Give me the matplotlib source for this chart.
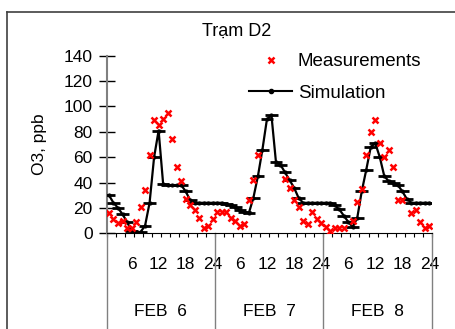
import numpy as np
import matplotlib.pyplot as plt
from matplotlib.lines import Line2D

plt.rcParams['font.family'] = ['Liberation Sans', 'DejaVu Sans']

# hourly values, one list per day (FEB 6, 7, 8)
days = ["FEB  6", "FEB  7", "FEB  8"]
hour_labels = [6, 12, 18, 24]

meas_d1 = [16, 11, 8, 10, 4, 4, 9, 21, 34, 62, 89, 85, 90, 95, 74, 52, 41, 27, 22, 18, 12, 4, 6, 11]
meas_d2 = [17, 17, 17, 12, 10, 6, 7, 26, 42, 62, np.nan, np.nan, np.nan, np.nan, np.nan,
           43, 36, 26, 21, 10, 7, 17, 11, 8]
meas_d3 = [5, 2, 4, 4, 4, np.nan, 10, 25, 35, 62, 80, 89, 71, 60, 66, 52, 26, 26, np.nan,
           16, 18, 9, 4, 6]

sim_d1 = [30, 24, 20, 15, 9, 2, 1, 1, 6, 24, 60, 81, 39, 38, 38, 38, 38, 33, 26, 24, 24, 24, 24, 24]
sim_d2 = [24, 24, 23, 22, 21, 18, 17, 16, 28, 45, 66, 90, 93, 56, 54, 48, 42, 36, 28, 24, 24, 24, 24, 24]
sim_d3 = [24, 24, 22, 19, 14, 9, 5, 12, 33, 50, 68, 71, 60, 45, 41, 40, 38, 33, 27, 24, 24, 24, 24, 24]

measurements = np.array(meas_d1 + meas_d2 + meas_d3, dtype=float)
simulation = np.array(sim_d1 + sim_d2 + sim_d3, dtype=float)
x = np.arange(72) + 0.5

fig = plt.figure(figsize=(4.56, 3.29), dpi=100)
ax = fig.add_axes([0.234, 0.291, 0.7127, 0.5397])

# simulation: line with small dots and horizontal bars
ax.errorbar(x, simulation, xerr=1.4, color='black', lw=1.6, elinewidth=2.0,
            capsize=0, marker='o', ms=2, zorder=3)
ax.plot(x, measurements, linestyle='none', marker='x', color='red', ms=4, mew=1.8, zorder=4)

ax.set_xlim(0, 72)
ax.set_ylim(0, 140)
ax.set_yticks(np.arange(0, 141, 20))
ax.tick_params(axis='y', direction='inout', length=12, width=1, labelsize=12.5, pad=4)

ax.set_xticks([d * 24 + h - 0.5 for d in range(3) for h in hour_labels])
ax.set_xticklabels([str(h) for d in range(3) for h in hour_labels])
ax.set_xticks(np.arange(0, 73, 2), minor=True)
ax.tick_params(axis='x', which='major', length=0, labelsize=12.5, pad=17)
ax.tick_params(axis='x', which='minor', length=3, width=0.8, direction='out')

for s in ['top', 'right']:
    ax.spines[s].set_visible(False)
ax.spines['left'].set_color('#808080')
ax.spines['left'].set_linewidth(1.5)

# day separators and day labels below the hour labels
for d in range(4):
    ax.axvline(d * 24, ymin=-0.54, ymax=0, color='#808080', lw=1, clip_on=False)
for d, name in enumerate(days):
    ax.text(d * 24 + 12, -0.44, name, transform=ax.get_xaxis_transform(),
            ha='center', va='center', fontsize=12.5)

ax.set_ylabel("O3, ppb", fontsize=12.5, labelpad=12)
fig.text(0.52, 0.906, "Trạm D2", ha='center', va='center', fontsize=13)

handles = [Line2D([], [], linestyle='none', marker='x', color='red', ms=4, mew=1.8),
           Line2D([], [], color='black', lw=1.5, marker='o', ms=3)]
fig.legend(handles, ["Measurements", "Simulation"], loc='upper left',
           bbox_to_anchor=(0.546, 0.838), frameon=False, fontsize=13.5,
           handlelength=2.3, handletextpad=0.3, labelspacing=0.75,
           borderpad=0, borderaxespad=0)

# outer chart border (left and top edges visible)
fig.add_artist(Line2D([7 / 456, 7 / 456], [0, 1 - 12 / 329], color='#404040', lw=1.2))
fig.add_artist(Line2D([7 / 456, 1], [1 - 12 / 329, 1 - 12 / 329], color='#404040', lw=1.2))

fig.savefig("out.png", dpi=100)
